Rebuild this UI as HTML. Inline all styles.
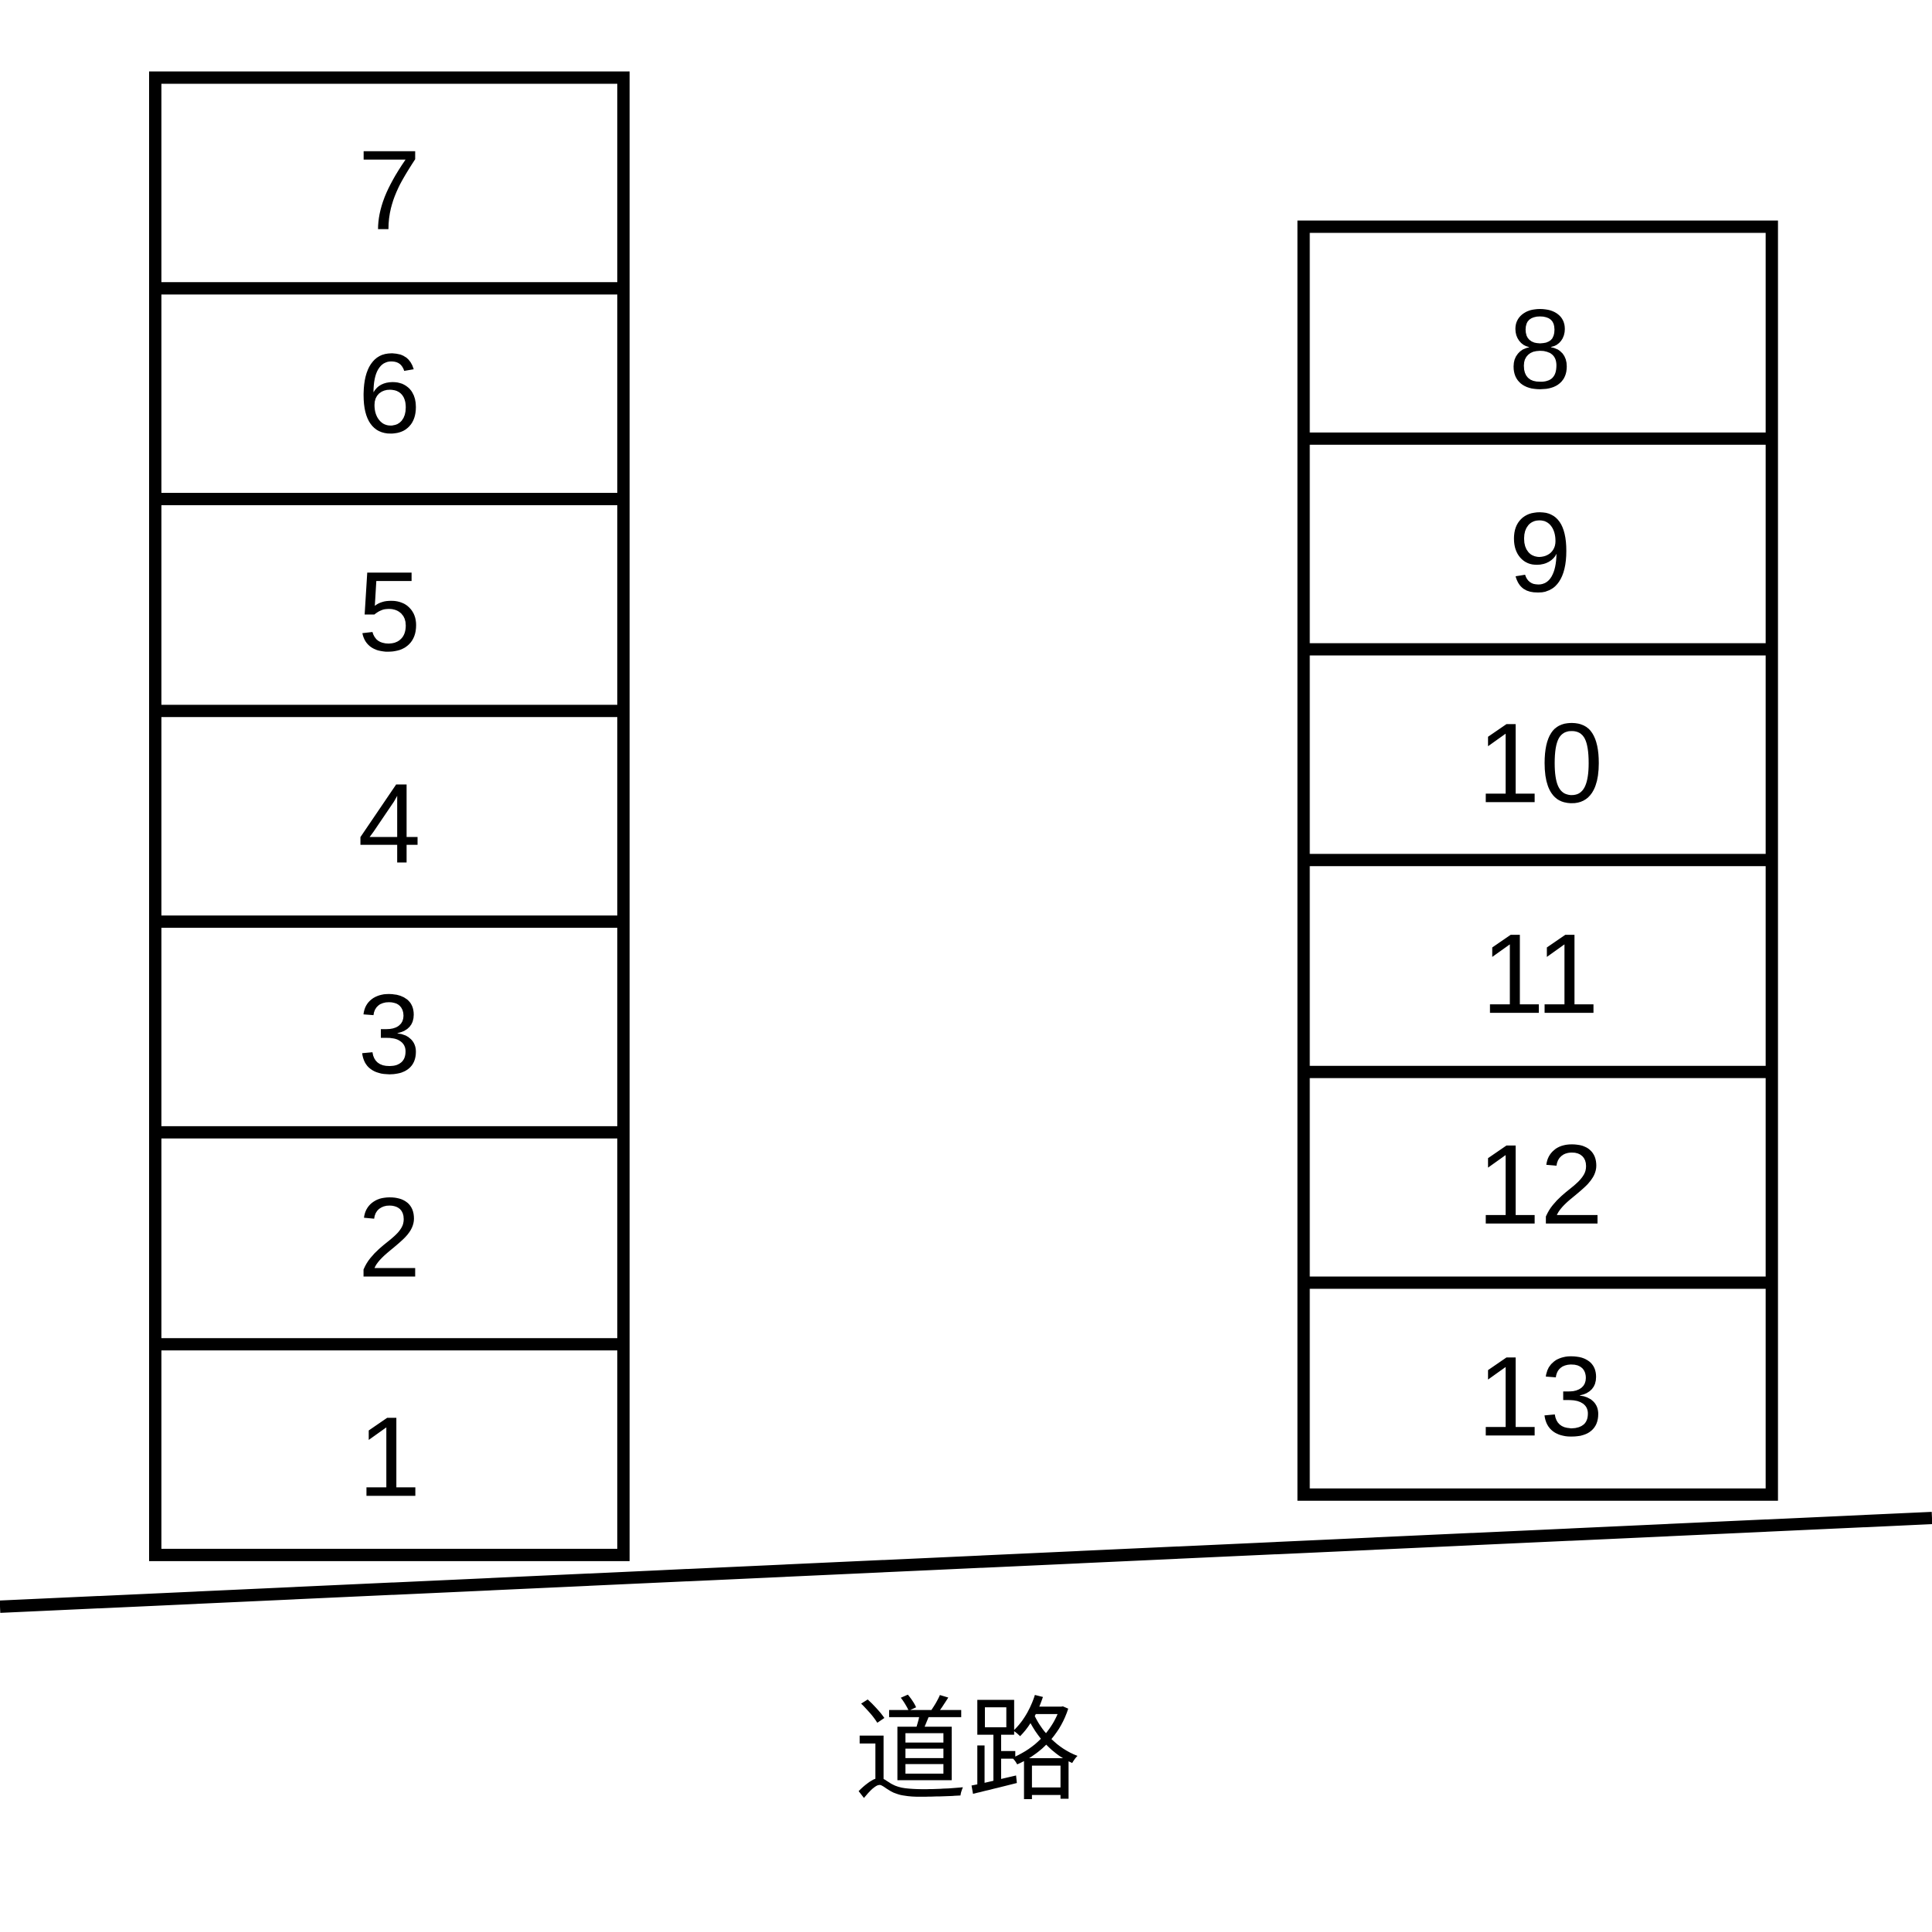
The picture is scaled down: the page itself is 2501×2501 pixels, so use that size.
<!DOCTYPE html>
<html><head><meta charset="utf-8"><style>html,body{margin:0;padding:0;background:#fff}svg{display:block}</style></head>
<body>
<svg width="2501" height="2501" viewBox="0 0 1568 1568" xmlns="http://www.w3.org/2000/svg">
<rect width="1568" height="1568" fill="#fff"/>
<g fill="none" stroke="#000" stroke-width="10">
<rect x="126" y="63" width="380" height="1199"/>
<line x1="126" y1="234" x2="506" y2="234"/>
<line x1="126" y1="405" x2="506" y2="405"/>
<line x1="126" y1="577" x2="506" y2="577"/>
<line x1="126" y1="748" x2="506" y2="748"/>
<line x1="126" y1="919" x2="506" y2="919"/>
<line x1="126" y1="1091" x2="506" y2="1091"/>
<rect x="1058" y="184" width="380" height="1029"/>
<line x1="1058" y1="356" x2="1438" y2="356"/>
<line x1="1058" y1="527" x2="1438" y2="527"/>
<line x1="1058" y1="698" x2="1438" y2="698"/>
<line x1="1058" y1="870" x2="1438" y2="870"/>
<line x1="1058" y1="1041" x2="1438" y2="1041"/>
<line x1="0" y1="1304" x2="1568" y2="1232"/>
</g>
<g font-family="Liberation Sans, sans-serif" font-size="92" text-anchor="middle" fill="#000">
<text x="316" y="186">7</text>
<text x="316" y="351">6</text>
<text x="316" y="528">5</text>
<text x="316" y="700">4</text>
<text x="316" y="871">3</text>
<text x="316" y="1036">2</text>
<text x="316" y="1214">1</text>
<text x="1250" y="315">8</text>
<text x="1250" y="480">9</text>
<text x="1250" y="651">10</text>
<text x="1250" y="822">11</text>
<text x="1250" y="993">12</text>
<text x="1250" y="1165">13</text>
</g>
<text x="785" y="1453" font-family="Liberation Sans, Noto Sans CJK SC, sans-serif" font-size="92" text-anchor="middle" fill="#000">道路</text>
</svg>
</body></html>
